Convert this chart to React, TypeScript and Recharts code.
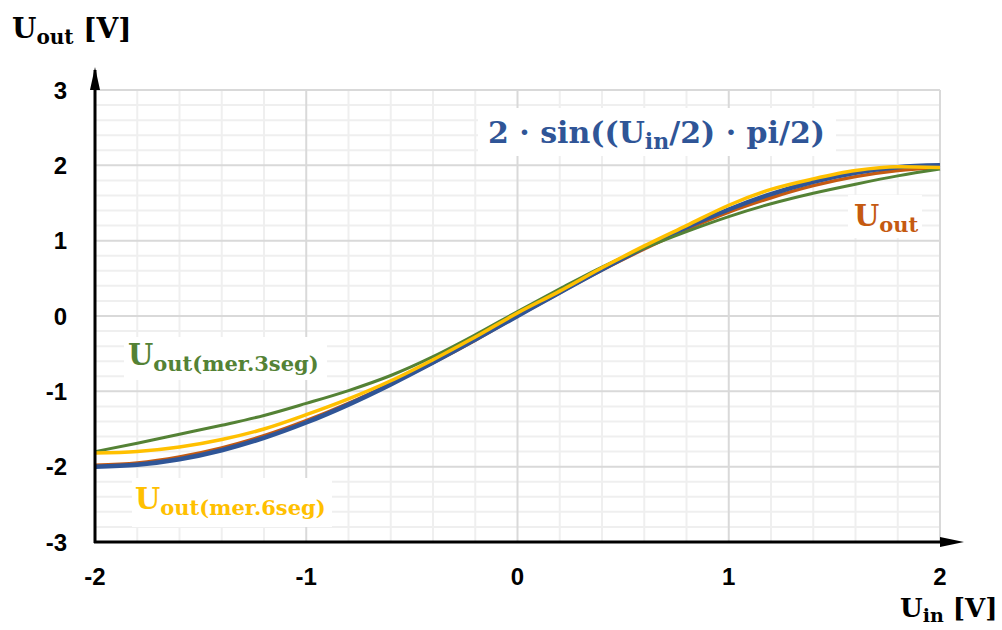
import { CartesianGrid, Line, LineChart, XAxis, YAxis } from "recharts";

// input voltage samples, V
const UIN = [-2, -1.8, -1.6, -1.4, -1.2, -1, -0.8, -0.6, -0.4, -0.2, 0, 0.2, 0.4, 0.6, 0.8, 1, 1.2, 1.4, 1.6, 1.8, 2];
// reference curve 2·sin((Uin/2)·pi/2)
const SINE = [-2.0, -1.975, -1.902, -1.782, -1.618, -1.414, -1.176, -0.908, -0.618, -0.313, 0, 0.313, 0.618, 0.908, 1.176, 1.414, 1.618, 1.782, 1.902, 1.975, 2.0];
// measured output
const UOUT = [-1.98, -1.95, -1.87, -1.75, -1.59, -1.39, -1.16, -0.9, -0.62, -0.32, 0.0, 0.31, 0.61, 0.89, 1.15, 1.38, 1.57, 1.73, 1.85, 1.93, 1.97];
// measured, 6-segment approximation
const SEG6 = [-1.82, -1.8, -1.74, -1.64, -1.5, -1.31, -1.1, -0.86, -0.58, -0.28, 0.04, 0.33, 0.64, 0.93, 1.2, 1.47, 1.68, 1.82, 1.93, 1.98, 1.97];
// measured, 3-segment approximation
const SEG3 = [-1.8, -1.69, -1.57, -1.45, -1.32, -1.16, -0.99, -0.79, -0.54, -0.25, 0.06, 0.36, 0.65, 0.9, 1.12, 1.32, 1.49, 1.63, 1.75, 1.86, 1.95];

const X_TICKS = [-2, -1, 0, 1, 2];
const Y_TICKS = [-3, -2, -1, 0, 1, 2, 3];
const X_MINOR = [-1.8, -1.6, -1.4, -1.2, -0.8, -0.6, -0.4, -0.2, 0.2, 0.4, 0.6, 0.8, 1.2, 1.4, 1.6, 1.8];
const Y_MINOR = [-2.8, -2.6, -2.4, -2.2, -1.8, -1.6, -1.4, -1.2, -0.8, -0.6, -0.4, -0.2, 0.2, 0.4, 0.6, 0.8, 1.2, 1.4, 1.6, 1.8, 2.2, 2.4, 2.6, 2.8];

const data = UIN.map((x, i) => ({ x, sine: SINE[i], uout: UOUT[i], seg6: SEG6[i], seg3: SEG3[i] }));

const W = 1002;
const H = 630;
const LEFT = 95;
const TOP = 90;
const RIGHT = 940;
const BOTTOM = 542;
const Y_AXIS_W = 70;
const X_AXIS_H = 60;

const SERIF = "'DejaVu Serif', serif";
const tickStyle = { fill: "#000", fontSize: 24, fontWeight: 700, fontFamily: "'Liberation Sans', Arial, sans-serif" };

export default function App() {
  return (
    <div style={{ position: "absolute", left: 0, top: 0, width: W, height: H, background: "#fff" }}>
      <LineChart
        width={W}
        height={H}
        data={data}
        margin={{ top: TOP, right: W - RIGHT, bottom: H - BOTTOM - X_AXIS_H, left: LEFT - Y_AXIS_W }}
      >
        <CartesianGrid stroke="#efefef" strokeWidth={2} horizontalValues={Y_MINOR} verticalValues={X_MINOR} />
        <CartesianGrid stroke="#d9d9d9" strokeWidth={2} horizontalValues={Y_TICKS} verticalValues={X_TICKS} />
        <XAxis
          dataKey="x"
          type="number"
          domain={[-2, 2]}
          ticks={X_TICKS}
          interval={0}
          height={X_AXIS_H}
          tickLine={false}
          axisLine={false}
          tickSize={0}
          tickMargin={26}
          tick={tickStyle}
        />
        <YAxis
          type="number"
          domain={[-3, 3]}
          ticks={Y_TICKS}
          interval={0}
          width={Y_AXIS_W}
          tickLine={false}
          axisLine={false}
          tickSize={0}
          tickMargin={28}
          tick={tickStyle}
        />
        <Line dataKey="uout" type="monotone" stroke="#c55a11" strokeWidth={3.5} dot={false} isAnimationActive={false} />
        <Line dataKey="sine" type="monotone" stroke="#2f5597" strokeWidth={4.5} dot={false} isAnimationActive={false} />
        <Line dataKey="seg3" type="monotone" stroke="#548235" strokeWidth={3} dot={false} isAnimationActive={false} />
        <Line dataKey="seg6" type="monotone" stroke="#ffc000" strokeWidth={3.5} dot={false} isAnimationActive={false} />
      </LineChart>

      <svg width={W} height={H} style={{ position: "absolute", left: 0, top: 0, pointerEvents: "none" }}>
        {/* axes with arrow heads */}
        <line x1={LEFT} y1={BOTTOM + 1} x2={LEFT} y2={TOP - 20} stroke="#000" strokeWidth={3} />
        <polygon points={`${LEFT},${TOP - 23} ${LEFT - 5},${TOP} ${LEFT + 5},${TOP}`} fill="#000" />
        <line x1={LEFT - 1} y1={BOTTOM} x2={RIGHT + 2} y2={BOTTOM} stroke="#000" strokeWidth={3} />
        <polygon points={`${RIGHT + 24},${BOTTOM} ${RIGHT},${BOTTOM - 5} ${RIGHT},${BOTTOM + 5}`} fill="#000" />

        {/* axis titles */}
        <text x={12} y={38} fontFamily={SERIF} fontWeight={700} fontSize={28} fill="#000">
          U<tspan fontSize={20} dy={6}>out</tspan>
          <tspan dy={-6}> [V]</tspan>
        </text>
        <text x={900} y={617} fontFamily={SERIF} fontWeight={700} fontSize={26} fill="#000">
          U<tspan fontSize={19} dy={5}>in</tspan>
          <tspan dy={-5}> [V]</tspan>
        </text>

        {/* curve labels */}
        <rect x={478} y={108} width={358} height={48} fill="#fff" />
        <text x={488} y={143} fontFamily={SERIF} fontWeight={700} fontSize={30} fill="#2f5597">
          2 · sin((U<tspan fontSize={22} dy={6}>in</tspan>
          <tspan dy={-6}>/2) · pi/2)</tspan>
        </text>

        <rect x={848} y={195} width={74} height={43} fill="#fff" />
        <text x={854} y={226} fontFamily={SERIF} fontWeight={700} fontSize={29} fill="#c55a11">
          U<tspan fontSize={21} dy={6}>out</tspan>
        </text>

        <rect x={124} y={337} width={203} height={43} fill="#fff" />
        <text x={128} y={365} fontFamily={SERIF} fontWeight={700} fontSize={29} fill="#548235">
          U<tspan fontSize={21} dy={6}>out(mer.3seg)</tspan>
        </text>

        <rect x={132} y={478} width={200} height={49} fill="#fff" />
        <text x={135} y={509} fontFamily={SERIF} fontWeight={700} fontSize={29} fill="#ffc000">
          U<tspan fontSize={21} dy={6}>out(mer.6seg)</tspan>
        </text>
      </svg>
    </div>
  );
}
